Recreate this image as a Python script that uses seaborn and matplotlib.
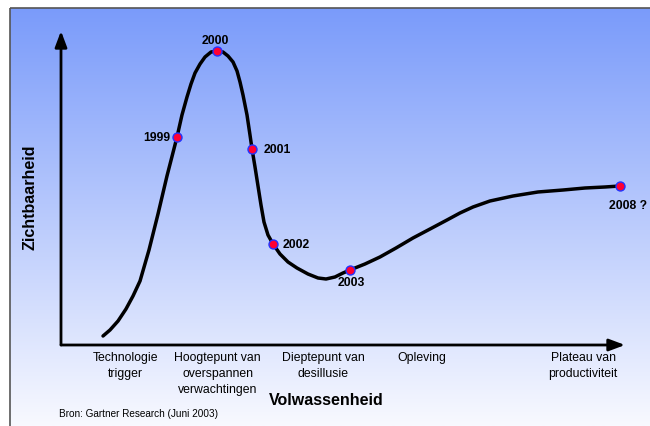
import numpy as np
import matplotlib
matplotlib.use("Agg")
import matplotlib.pyplot as plt
import seaborn as sns
from matplotlib.patches import Rectangle

sns.set_theme(style="white")
plt.rcParams['font.family'] = ['Liberation Sans', 'DejaVu Sans']
plt.rcParams['text.color'] = 'black'

# hype curve (maturity 0-100, visibility 0-100)
curve_x = [7.45, 8.69, 10.11, 11.52, 12.77, 14.01, 15.60, 17.20, 18.79, 20.57,
           21.45, 22.34, 23.05, 23.76, 24.65, 25.53, 26.60, 27.66, 28.72, 29.61,
           30.50, 31.21, 31.74, 32.27, 32.98, 33.51, 33.87, 34.40, 34.93, 35.46,
           35.99, 36.70, 37.59, 38.83, 40.25, 41.84, 43.79, 45.57, 46.99, 48.58,
           50.00, 51.24, 53.90, 56.56, 59.40, 62.41, 65.43, 68.44, 70.74, 73.05,
           76.06, 80.14, 84.57, 89.01, 92.91, 96.45, 99.11]
curve_y = [2.87, 4.78, 7.64, 11.46, 15.61, 20.38, 30.25, 41.72, 53.82, 66.24,
           73.25, 78.98, 83.12, 86.62, 89.49, 91.72, 93.31, 93.63, 93.31, 92.04,
           90.13, 87.26, 83.76, 79.62, 73.25, 66.88, 62.42, 56.69, 50.64, 44.59,
           39.17, 35.03, 32.17, 28.98, 26.43, 24.52, 22.61, 21.34, 21.02, 21.66,
           22.93, 23.89, 25.80, 28.03, 30.89, 34.08, 36.94, 39.81, 42.04, 43.95,
           45.86, 47.45, 48.73, 49.36, 50.00, 50.32, 50.64]

# yearly markers
years = ["1999", "2000", "2001", "2002", "2003", "2008 ?"]
year_x = [20.57, 27.66, 33.87, 37.59, 51.24, 99.11]
year_y = [66.24, 93.63, 62.42, 32.17, 23.89, 50.64]

# phases along the maturity axis
phases = ["Technologie\ntrigger", "Hoogtepunt van\noverspannen\nverwachtingen",
          "Dieptepunt van\ndesillusie", "Opleving", "Plateau van\nproductiviteit"]
phase_x = [11.5, 27.8, 46.5, 64.0, 92.6]

W, H = 650, 426
fig = plt.figure(figsize=(W / 100, H / 100), dpi=100)

# gradient background
bg = fig.add_axes([0, 0, 1, 1])
bg.set_xlim(0, W)
bg.set_ylim(H, 0)
bg.axis("off")
top = np.array([122, 155, 250]) / 255
bottom = np.array([248, 249, 255]) / 255
t = np.linspace(0, 1, 256)[:, None, None]
grad = top * (1 - t) + bottom * t
bg.imshow(grad, extent=(10, W, H, 8), aspect="auto", interpolation="bilinear")
bg.add_patch(Rectangle((10, 8), W, H, fill=False, edgecolor="#555555", lw=1.2))

# main axes
ax = fig.add_axes([61 / W, (H - 345) / H, 564 / W, 314 / H])
ax.patch.set_alpha(0)
ax.set_xlim(0, 100)
ax.set_ylim(0, 100)
for s in ax.spines.values():
    s.set_visible(False)
ax.set_xticks([])
ax.set_yticks([])

arrow = dict(arrowstyle="-|>,head_length=0.8,head_width=0.3", color="black", lw=2, shrinkA=0, shrinkB=0)
ax.annotate("", xy=(1, 0), xytext=(0, 0), xycoords="axes fraction", arrowprops=arrow)
ax.annotate("", xy=(0, 1), xytext=(0, 0), xycoords="axes fraction", arrowprops=arrow)

sns.lineplot(x=curve_x, y=curve_y, sort=False, estimator=None, color="black", lw=2.5,
             solid_joinstyle="round", solid_capstyle="round", ax=ax)
sns.scatterplot(x=year_x, y=year_y, color="#ff0033", edgecolor="#2233ff", linewidth=1.0,
                s=42, zorder=5, ax=ax)

offsets = [(-5, -1, "right", "center"), (-1, 3, "center", "bottom"),
           (8, -1, "left", "center"), (7, -1, "left", "center"),
           (1, -5, "center", "top"), (6, -10, "center", "top")]
for lab, x, y, (dx, dy, ha, va) in zip(years, year_x, year_y, offsets):
    ax.annotate(lab, (x, y), xytext=(dx, dy), textcoords="offset points",
                ha=ha, va=va, fontsize=8.8, fontweight="bold")

for lab, x in zip(phases, phase_x):
    ax.text(x, -2.3, lab, ha="center", va="top", fontsize=8.8, linespacing=1.42)

ax.text(47, -15.3, "Volwassenheid", ha="center", va="top", fontsize=11.5, fontweight="bold")
ax.text(-0.3, -20.3, "Bron: Gartner Research (Juni 2003)", ha="left", va="top", fontsize=7.2)
ax.text(-5.5, 47, "Zichtbaarheid", rotation=90, ha="center", va="center",
        fontsize=11.5, fontweight="bold")

fig.savefig("out.png", dpi=100)
